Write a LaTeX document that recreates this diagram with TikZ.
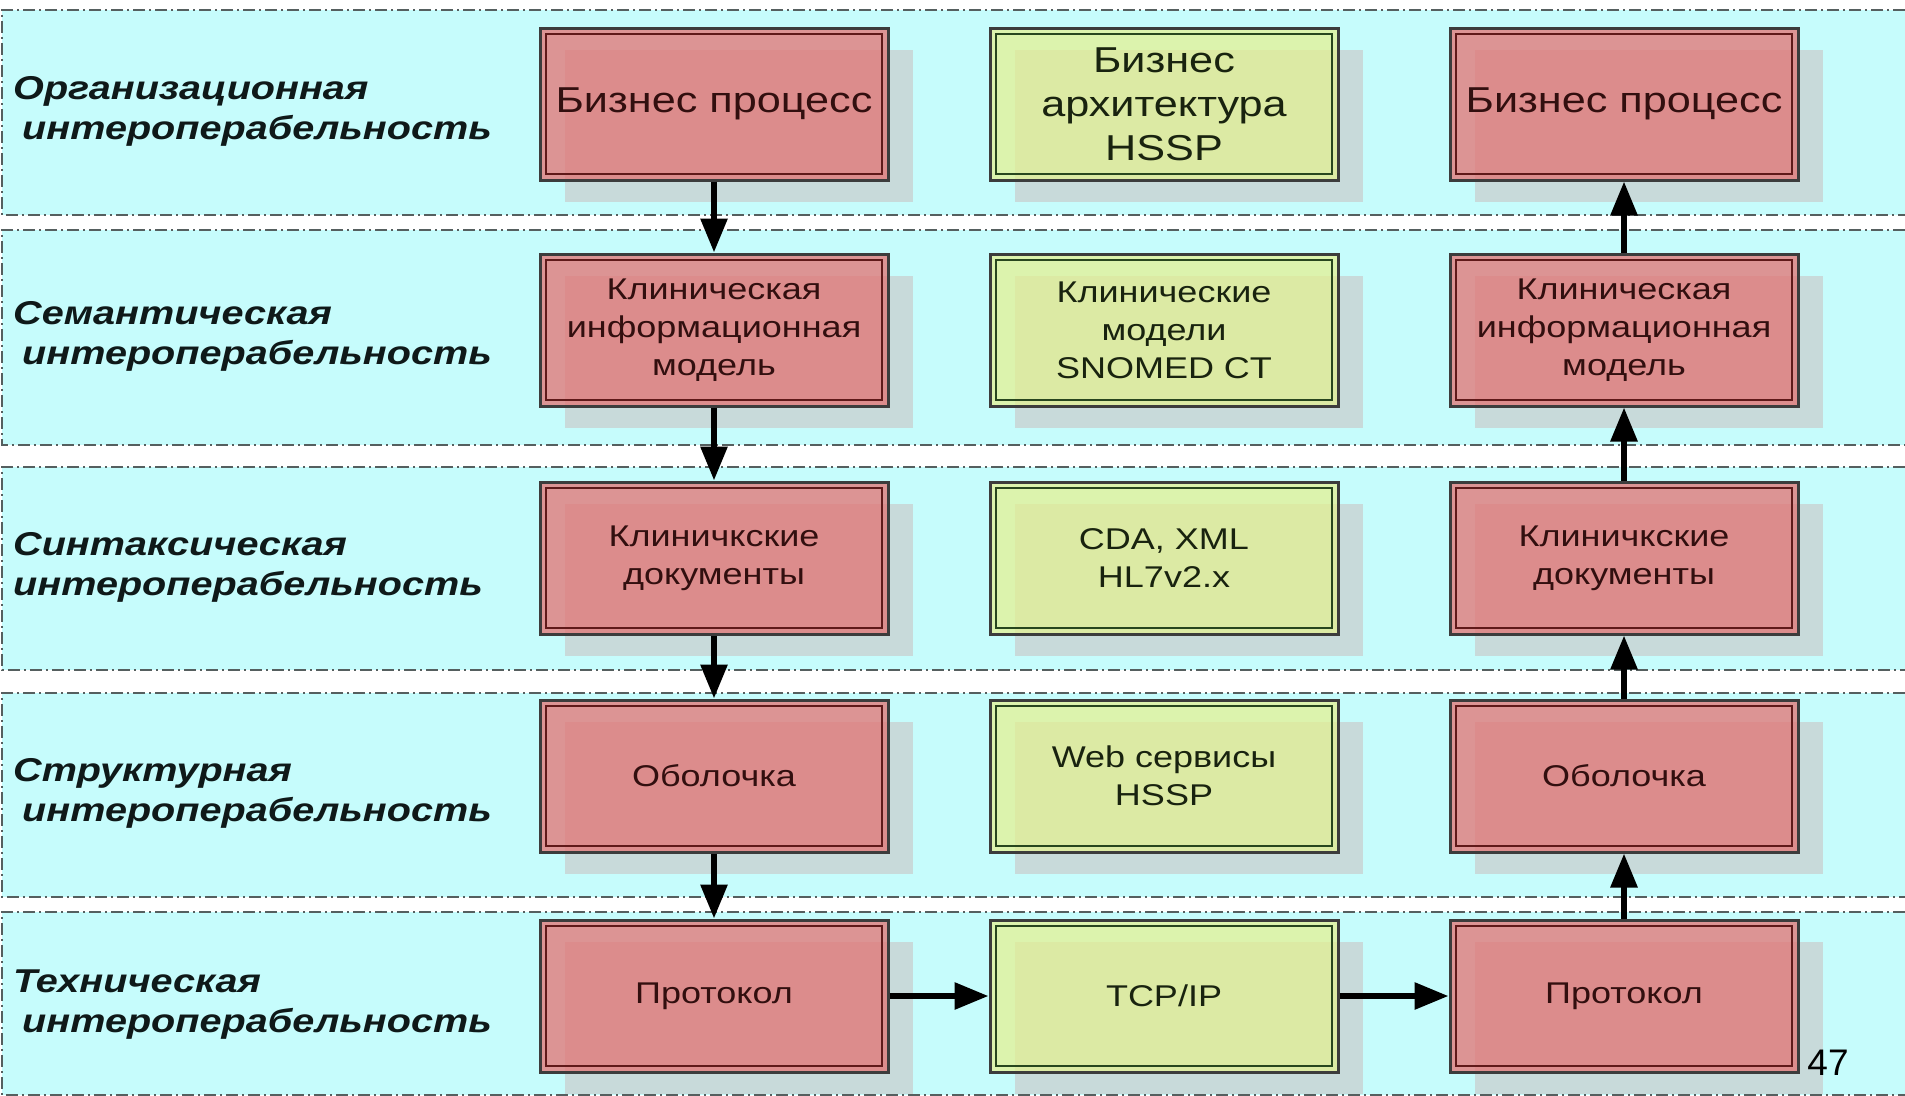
\documentclass[tikz,border=0pt]{standalone}
\usepackage{fontspec}
\setmainfont{Liberation Sans}[FakeStretch=1.2]
\newfontfamily\plainfont{Liberation Sans}
\usetikzlibrary{arrows.meta,shadows}
\definecolor{bandcyan}{RGB}{198,252,252}
\definecolor{bandline}{RGB}{85,95,95}
\definecolor{shadowgray}{RGB}{200,218,218}
\definecolor{redfill}{RGB}{228,114,114}
\definecolor{greenfill}{RGB}{228,240,147}
\definecolor{boxedge}{RGB}{60,60,60}
\definecolor{redinner}{RGB}{95,25,25}
\definecolor{greeninner}{RGB}{40,70,30}
\definecolor{redtext}{RGB}{50,15,15}
\definecolor{greentext}{RGB}{25,35,15}
\definecolor{labeltext}{RGB}{15,25,25}
\begin{document}
\begin{tikzpicture}[x=1pt,y=-1pt,
  bandedge/.style={draw=bandline, line width=2pt, dash pattern=on 12pt off 4pt on 2pt off 4pt},
  basebox/.style={minimum width=348pt, minimum height=152pt, inner sep=0pt, align=center,
    draw=boxedge, line width=3pt, text opacity=1,
    drop shadow={shadow xshift=25pt, shadow yshift=-22pt, fill=shadowgray, opacity=1}},
  redbox/.style={basebox, fill=redfill, fill opacity=0.75, text=redtext,
    path picture={\draw[redinner, line width=1.5pt] ([shift={(6pt,-6pt)}]path picture bounding box.north west) rectangle ([shift={(-6pt,6pt)}]path picture bounding box.south east);}},
  greenbox/.style={basebox, fill=greenfill, fill opacity=0.75, text=greentext,
    path picture={\draw[greeninner, line width=1.5pt] ([shift={(6pt,-6pt)}]path picture bounding box.north west) rectangle ([shift={(-6pt,6pt)}]path picture bounding box.south east);}},
  bigtext/.style={font=\fontsize{36pt}{44pt}\selectfont},
  smalltext/.style={font=\fontsize{30pt}{38pt}\selectfont},
  layerlabel/.style={anchor=west, align=left, inner sep=0pt, text=labeltext,
    font=\bfseries\itshape\fontsize{33pt}{40pt}\selectfont},
  flow/.style={line width=6pt, black, -{Triangle[length=34pt,width=26pt]}}
]
\useasboundingbox[fill=white] (0,0) rectangle (1905,1095);
% bands
\foreach \t/\b in {10/215, 230/445, 467/670, 693/897, 912/1095}{
  \fill[bandcyan] (2,\t) rectangle (1905,\b);
  \draw[bandedge] (1905,\t) -- (2,\t) -- (2,\b) -- (1905,\b);
}
% labels
\node[layerlabel] (l1) at (13,111) {Организационная\\\hspace*{9pt}интероперабельность};
\node[layerlabel] (l2) at (13,336) {Семантическая\\\hspace*{9pt}интероперабельность};
\node[layerlabel] (l3) at (13,567) {Синтаксическая\\интероперабельность};
\node[layerlabel] (l4) at (13,793) {Структурная\\\hspace*{9pt}интероперабельность};
\node[layerlabel] (l5) at (13,1005) {Техническая\\\hspace*{9pt}интероперабельность};
% row 1
\node[redbox, bigtext] (b11) at (714,104) {Бизнес процесс};
\node[greenbox, bigtext] (b12) at (1164,104) {Бизнес\\архитектура\\HSSP};
\node[redbox, bigtext] (b13) at (1624,104) {Бизнес процесс};
% row 2
\node[redbox, smalltext] (b21) at (714,330) {Клиническая\\информационная\\модель};
\node[greenbox, smalltext] (b22) at (1164,330) {Клинические\\модели\\SNOMED CT};
\node[redbox, smalltext] (b23) at (1624,330) {Клиническая\\информационная\\модель};
% row 3
\node[redbox, smalltext] (b31) at (714,558) {Клиничкские\\документы};
\node[greenbox, smalltext] (b32) at (1164,558) {CDA, XML\\HL7v2.x};
\node[redbox, smalltext] (b33) at (1624,558) {Клиничкские\\документы};
% row 4
\node[redbox, smalltext] (b41) at (714,776) {Оболочка};
\node[greenbox, smalltext] (b42) at (1164,776) {Web сервисы\\HSSP};
\node[redbox, smalltext] (b43) at (1624,776) {Оболочка};
% row 5
\node[redbox, smalltext] (b51) at (714,996) {Протокол};
\node[greenbox, smalltext] (b52) at (1164,996) {TCP/IP};
\node[redbox, smalltext] (b53) at (1624,996) {Протокол};
% arrows
\draw[flow] (b11.south) -- (b21.north);
\draw[flow] (b21.south) -- (b31.north);
\draw[flow] (b31.south) -- (b41.north);
\draw[flow] (b41.south) -- (b51.north);
\draw[flow] (b51.east) -- (b52.west);
\draw[flow] (b52.east) -- (b53.west);
\draw[flow] (b53.north) -- (b43.south);
\draw[flow] (b43.north) -- (b33.south);
\draw[flow] (b33.north) -- (b23.south);
\draw[flow] (b23.north) -- (b13.south);
% page number
\node[inner sep=0pt, font=\plainfont\fontsize{37pt}{44pt}\selectfont] (pg) at (1828,1063) {47};
\end{tikzpicture}
\end{document}
